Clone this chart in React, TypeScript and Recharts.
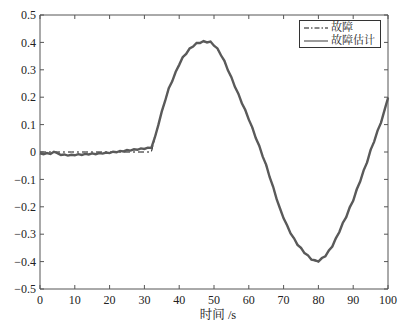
import { LineChart, Line, XAxis, YAxis, Legend } from "recharts";

// time grid (s)
const times = Array.from({ length: 101 }, (_, i) => i);

// fault signal
const fault = [
  0, 0, 0, 0, 0, 0, 0, 0, 0, 0,
  0, 0, 0, 0, 0, 0, 0, 0, 0, 0,
  0, 0, 0, 0, 0, 0, 0, 0, 0, 0,
  0, 0,
  0.0, 0.05, 0.1, 0.145, 0.19, 0.23, 0.26, 0.29,
  0.32, 0.343, 0.36, 0.375, 0.387, 0.395, 0.4, 0.402, 0.403, 0.4,
  0.39, 0.375, 0.355, 0.33, 0.3, 0.27, 0.24, 0.21, 0.18, 0.15,
  0.12, 0.087, 0.053, 0.02, -0.015, -0.05, -0.09, -0.13, -0.17, -0.21,
  -0.24, -0.27, -0.295, -0.318, -0.337, -0.353, -0.367, -0.38, -0.39, -0.398,
  -0.397, -0.39, -0.378, -0.362, -0.342, -0.318, -0.29, -0.262, -0.235, -0.205,
  -0.175, -0.14, -0.105, -0.07, -0.035, 0.005, 0.04, 0.075, 0.11, 0.15,
  0.2,
];

// fault estimate (noisy gray curve)
const estimate = [
  -0.005, -0.008, -0.004, -0.007, 0.001, -0.004, -0.011, -0.009, -0.013, -0.01,
  -0.012, -0.008, -0.011, -0.007, -0.009, -0.005, -0.008, -0.004, -0.006, -0.002,
  -0.004, 0.001, -0.001, 0.004, 0.002, 0.007, 0.005, 0.01, 0.008, 0.013,
  0.011, 0.016,
  0.015, 0.053, 0.098, 0.148, 0.188, 0.233, 0.258, 0.293,
  0.318, 0.346, 0.358, 0.378, 0.385, 0.398, 0.398, 0.405, 0.4, 0.403,
  0.388, 0.378, 0.353, 0.333, 0.298, 0.273, 0.238, 0.213, 0.178, 0.153,
  0.118, 0.09, 0.051, 0.023, -0.017, -0.047, -0.092, -0.127, -0.172, -0.207,
  -0.242, -0.267, -0.297, -0.315, -0.339, -0.35, -0.369, -0.377, -0.393, -0.395,
  -0.4, -0.387, -0.381, -0.359, -0.345, -0.315, -0.293, -0.259, -0.238, -0.202,
  -0.178, -0.137, -0.108, -0.067, -0.038, 0.008, 0.037, 0.078, 0.107, 0.153,
  0.197,
];

const xTicks = [0, 10, 20, 30, 40, 50, 60, 70, 80, 90, 100];
const yTicks = [-0.5, -0.4, -0.3, -0.2, -0.1, 0, 0.1, 0.2, 0.3, 0.4, 0.5];

const seriesNames = ["故障", "故障估计"];
const xLabel = "时间 /s";

const data = times.map((t, i) => ({ t, fault: fault[i], est: estimate[i] }));

const FONT = "'Liberation Serif', 'Times New Roman', 'Noto Serif CJK SC', 'Noto Sans CJK SC', serif";
const AXIS = "#555";
const TEXT = "#222";
const EST_COLOR = "#5a5a5a";

const fmtY = (v: number) => (v < 0 ? "\u2212" + Math.abs(v) : String(v));

const BottomTick = ({ x, y, payload }: any) => (
  <g>
    <line x1={x} y1={y} x2={x} y2={y - 4} stroke={AXIS} />
    <text x={x} y={y + 14.5} textAnchor="middle" fontFamily={FONT} fontSize={12} fill={TEXT}>
      {payload.value}
    </text>
  </g>
);

const LeftTick = ({ x, y, payload }: any) => (
  <g>
    <line x1={x} y1={y} x2={x + 4} y2={y} stroke={AXIS} />
    <text x={x - 4} y={y} dy="0.35em" textAnchor="end" fontFamily={FONT} fontSize={12} fill={TEXT}>
      {fmtY(payload.value)}
    </text>
  </g>
);

const TopTick = ({ x, y }: any) => <line x1={x} y1={y} x2={x} y2={y + 4} stroke={AXIS} />;
const RightTick = ({ x, y }: any) => <line x1={x} y1={y} x2={x - 4} y2={y} stroke={AXIS} />;

const LegendBox = () => (
  <div
    style={{
      border: "1px solid #333",
      background: "#fff",
      width: 82,
      height: 28,
      boxSizing: "border-box",
      paddingTop: 0,
      fontFamily: FONT,
      fontSize: 11,
      lineHeight: "13px",
      color: TEXT,
      whiteSpace: "nowrap",
    }}
  >
    <div style={{ display: "flex", alignItems: "center", height: 13 }}>
      <svg width={31} height={13}>
        <line x1={4} y1={7} x2={28} y2={7} stroke="#111" strokeDasharray="5 2 1.5 2" />
      </svg>
      <span>{seriesNames[0]}</span>
    </div>
    <div style={{ display: "flex", alignItems: "center", height: 13 }}>
      <svg width={31} height={13}>
        <line x1={4} y1={7} x2={28} y2={7} stroke={EST_COLOR} strokeWidth={1.2} />
      </svg>
      <span>{seriesNames[1]}</span>
    </div>
  </div>
);

export default function App() {
  return (
    <div style={{ position: "absolute", left: 0, top: 0, width: 413, height: 325, background: "#fff" }}>
      <LineChart width={413} height={325} data={data} margin={{ top: 14, right: 24, left: 0, bottom: 0 }}>
        <XAxis
          dataKey="t"
          type="number"
          domain={[0, 100]}
          ticks={xTicks}
          interval={0}
          height={36}
          stroke={AXIS}
          tickLine={false}
          tickSize={0}
          tickMargin={0}
          tick={<BottomTick />}
          label={{ value: xLabel, position: "insideBottom", offset: 6, fontFamily: FONT, fontSize: 12.5, fill: TEXT, dx: 4 }}
        />
        <XAxis
          xAxisId="top"
          orientation="top"
          dataKey="t"
          type="number"
          domain={[0, 100]}
          ticks={xTicks}
          interval={0}
          height={1}
          stroke={AXIS}
          tickLine={false}
          tickSize={0}
          tickMargin={0}
          tick={<TopTick />}
        />
        <YAxis
          type="number"
          domain={[-0.5, 0.5]}
          ticks={yTicks}
          interval={0}
          width={40}
          stroke={AXIS}
          tickLine={false}
          tickSize={0}
          tickMargin={0}
          tick={<LeftTick />}
        />
        <YAxis
          yAxisId="right"
          orientation="right"
          type="number"
          domain={[-0.5, 0.5]}
          ticks={yTicks}
          interval={0}
          width={1}
          stroke={AXIS}
          tickLine={false}
          tickSize={0}
          tickMargin={0}
          tick={<RightTick />}
        />
        <Legend
          layout="horizontal"
          align="center"
          verticalAlign="middle"
          content={<LegendBox />}
          wrapperStyle={{ top: 20, left: 299, width: 82, height: 28 }}
        />
        <Line
          xAxisId="top"
          yAxisId="right"
          dataKey="fault"
          name={seriesNames[0]}
          stroke="#111"
          strokeWidth={1}
          strokeDasharray="6 3 2 3"
          dot={false}
          isAnimationActive={false}
        />
        <Line
          dataKey="est"
          name={seriesNames[1]}
          stroke={EST_COLOR}
          strokeWidth={2.4}
          dot={false}
          isAnimationActive={false}
        />
      </LineChart>
    </div>
  );
}
